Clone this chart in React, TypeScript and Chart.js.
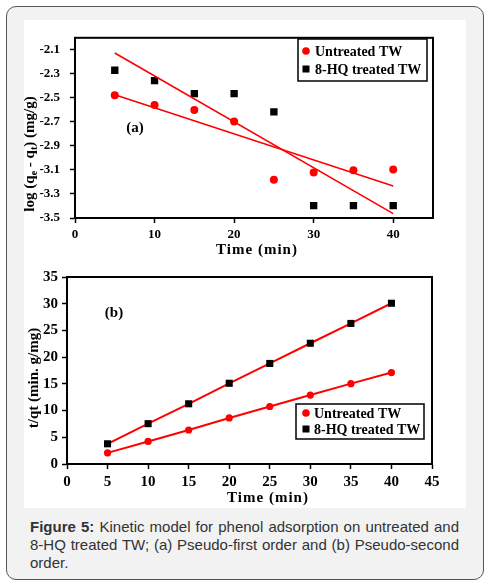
import React, { useEffect, useRef } from "react";
import { Chart, registerables } from "chart.js";

Chart.register(...registerables);

// ---------- data ----------
const seriesNames = ["Untreated TW", "8-HQ treated TW"];

// (a) Pseudo-first order
const timeA = [5, 10, 15, 20, 25, 30, 35, 40];
const untreatedA = [-2.478, -2.559, -2.6, -2.697, -3.181, -3.122, -3.103, -3.097];
const treatedA = [-2.27, -2.357, -2.465, -2.465, -2.616, -3.397, -3.397, -3.397];
const trendTimeA = [5, 40];
const untreatedTrendA = [-2.475, -3.234];
const treatedTrendA = [-2.127, -3.464];
const xTicksA = [0, 10, 20, 30, 40];
const yTicksA = [-3.5, -3.3, -3.1, -2.9, -2.7, -2.5, -2.3, -2.1];

// (b) Pseudo-second order
const timeB = [5, 10, 15, 20, 25, 30, 35, 40];
const untreatedB = [2.08, 4.22, 6.36, 8.62, 10.76, 12.9, 15.04, 17.12];
const treatedB = [3.78, 7.55, 11.27, 15.11, 18.82, 22.6, 26.31, 30.09];
const xTicksB = [0, 5, 10, 15, 20, 25, 30, 35, 40, 45];
const yTicksB = [0, 5, 10, 15, 20, 25, 30, 35];

const RED = "#ff0000";
const SERIF = '"Liberation Serif", "Times New Roman", serif';

type Seg = { t: string; sub?: boolean };

function makeDecor(cfg: any) {
  return {
    id: "decor" + cfg.panel,
    afterDraw(chart: any) {
      const { ctx, chartArea: a } = chart;
      ctx.save();
      // frame
      ctx.strokeStyle = "#000";
      ctx.lineWidth = 2;
      ctx.strokeRect(a.left, a.top, a.right - a.left, a.bottom - a.top);

      ctx.fillStyle = "#000";
      ctx.textBaseline = "middle";
      // panel label
      ctx.font = `bold 15px ${SERIF}`;
      ctx.textAlign = "center";
      ctx.fillText(cfg.panel, cfg.panelX, cfg.panelY);
      // x title
      ctx.font = `bold ${cfg.titleSize}px ${SERIF}`;
      try { (ctx as any).letterSpacing = "1px"; } catch (e) {}
      ctx.fillText("Time (min)", cfg.xTitleX, cfg.xTitleY);
      try { (ctx as any).letterSpacing = "0px"; } catch (e) {}

      // y title (rotated, with subscripts)
      const segs: Seg[] = cfg.yTitle;
      const mainFont = `bold ${cfg.titleSize}px ${SERIF}`;
      const subFont = `bold ${Math.round(cfg.titleSize * 0.65)}px ${SERIF}`;
      let total = 0;
      segs.forEach((s) => {
        ctx.font = s.sub ? subFont : mainFont;
        total += ctx.measureText(s.t).width;
      });
      ctx.save();
      ctx.translate(cfg.yTitleX, cfg.yTitleY);
      ctx.rotate(-Math.PI / 2);
      ctx.textAlign = "left";
      let px = -total / 2;
      segs.forEach((s) => {
        ctx.font = s.sub ? subFont : mainFont;
        ctx.fillText(s.t, px, s.sub ? 4 : 0);
        px += ctx.measureText(s.t).width;
      });
      ctx.restore();

      // legend
      const L = cfg.legend;
      ctx.strokeStyle = "#000";
      ctx.lineWidth = 1.5;
      ctx.strokeRect(L.x, L.y, L.w, L.h);
      ctx.font = `bold 14px ${SERIF}`;
      ctx.textAlign = "left";
      ctx.textBaseline = "middle";
      const dsets = chart.data.datasets.filter((d: any) => seriesNames.includes(d.label));
      dsets.forEach((d: any, i: number) => {
        const cy = L.rowY + i * L.rowGap;
        ctx.fillStyle = d.backgroundColor;
        if (d.pointStyle === "rect") {
          ctx.fillRect(L.markerX - 3.5, cy - 3.5, 7, 7);
        } else {
          ctx.beginPath();
          ctx.arc(L.markerX, cy, 3.8, 0, Math.PI * 2);
          ctx.fill();
        }
        ctx.fillStyle = "#000";
        ctx.fillText(d.label, L.textX, cy + 1);
      });
      ctx.restore();
    },
  };
}

function axis(ticksArr: number[], min: number, max: number, fit: (s: any) => void, font: number, pad: number, fmt: (v: number) => string) {
  return {
    type: "linear" as const,
    min,
    max,
    afterBuildTicks: (s: any) => {
      s.ticks = ticksArr.map((v) => ({ value: v }));
    },
    afterFit: fit,
    ticks: {
      autoSkip: false,
      maxRotation: 0,
      color: "#000",
      padding: pad,
      font: { family: SERIF, size: font, weight: "bold" as const },
      callback: (v: any) => fmt(Number(v)),
    },
    grid: { drawOnChartArea: false, drawTicks: true, tickLength: 5, tickColor: "#000", tickWidth: 1.5 },
    border: { display: true, color: "#000", width: 2 },
  };
}

function ChartCanvas({ config, width, height }: { config: any; width: number; height: number }) {
  const ref = useRef<HTMLCanvasElement | null>(null);
  useEffect(() => {
    if (!ref.current) return;
    const chart = new Chart(ref.current, config);
    return () => chart.destroy();
  }, [config]);
  return <canvas ref={ref} width={width} height={height} style={{ display: "block", width, height }} />;
}

const pts = (xs: number[], ys: number[]) => xs.map((x, i) => ({ x, y: ys[i] }));

const configA = {
  type: "scatter",
  data: {
    datasets: [
      { label: seriesNames[0], data: pts(timeA, untreatedA), pointStyle: "circle", pointRadius: 4, pointBorderWidth: 0, backgroundColor: RED, borderColor: RED, showLine: false, order: 1 },
      { label: seriesNames[1], data: pts(timeA, treatedA), pointStyle: "rect", pointRadius: 5.2, pointBorderWidth: 0, backgroundColor: "#000", borderColor: "#000", showLine: false, order: 2 },
      { label: "fit-untreated", data: pts(trendTimeA, untreatedTrendA), showLine: true, pointRadius: 0, borderColor: RED, borderWidth: 1.6, order: 0 },
      { label: "fit-treated", data: pts(trendTimeA, treatedTrendA), showLine: true, pointRadius: 0, borderColor: RED, borderWidth: 1.6, order: 0 },
    ],
  },
  options: {
    responsive: false,
    animation: false,
    layout: { padding: { top: 13, right: 33, left: 0, bottom: 0 } },
    plugins: { legend: { display: false }, tooltip: { enabled: false } },
    scales: {
      x: axis(xTicksA, 0, 45, (s: any) => { s.height = 44; }, 13, 4, (v) => String(v)),
      y: axis(yTicksA, -3.5, -2.0, (s: any) => { s.width = 51; }, 13, 10, (v) => v.toFixed(1)),
    },
  },
  plugins: [
    makeDecor({
      panel: "(a)", panelX: 111, panelY: 108,
      titleSize: 15,
      xTitleX: 233, xTitleY: 230,
      yTitleX: 6, yTitleY: 134,
      yTitle: [{ t: "log (q" }, { t: "e", sub: true }, { t: " - q" }, { t: "t", sub: true }, { t: ") (mg/g)" }],
      legend: { x: 274, y: 19, w: 129, h: 42, rowY: 31, rowGap: 18, markerX: 282, textX: 291 },
    }),
  ],
};

const configB = {
  type: "scatter",
  data: {
    datasets: [
      { label: seriesNames[0], data: pts(timeB, untreatedB), pointStyle: "circle", pointRadius: 3.6, pointBorderWidth: 0, backgroundColor: RED, borderColor: RED, showLine: true, borderWidth: 2, order: 1 },
      { label: seriesNames[1], data: pts(timeB, treatedB), pointStyle: "rect", pointRadius: 5, pointBorderWidth: 0, pointBackgroundColor: "#000", backgroundColor: "#000", borderColor: RED, showLine: true, borderWidth: 2, order: 0 },
    ],
  },
  options: {
    responsive: false,
    animation: false,
    layout: { padding: { top: 15, right: 34, left: 0, bottom: 0 } },
    plugins: { legend: { display: false }, tooltip: { enabled: false } },
    scales: {
      x: axis(xTicksB, 0, 45, (s: any) => { s.height = 44; }, 15, 4, (v) => String(v)),
      y: axis(yTicksB, 0, 35, (s: any) => { s.width = 43; }, 15, 4, (v) => String(v)),
    },
  },
  plugins: [
    makeDecor({
      panel: "(b)", panelX: 90, panelY: 51,
      titleSize: 15,
      xTitleX: 244, xTitleY: 236,
      yTitleX: 10, yTitleY: 116,
      yTitle: [{ t: "t/qt (min. g/mg)" }],
      legend: { x: 272, y: 142, w: 128, h: 35, rowY: 151, rowGap: 16, markerX: 282, textX: 290 },
    }),
  ],
};

const lineStyle: React.CSSProperties = {
  whiteSpace: "nowrap",
  textAlign: "justify",
  textAlignLast: "justify" as any,
  width: 429,
  height: 18,
};

export default function App() {
  return (
    <div style={{ position: "absolute", left: 0, top: 0, width: 491, height: 585, background: "#fff" }}>
      <div
        style={{
          position: "absolute",
          left: 6,
          top: 6,
          width: 476,
          height: 572,
          border: "1px solid #555",
          borderRadius: 10,
          background: "#f2f2f2",
        }}
      />
      <div style={{ position: "absolute", left: 24, top: 20, width: 442, height: 488, background: "#fff" }}>
        <ChartCanvas config={configA} width={442} height={242} />
        <ChartCanvas config={configB} width={442} height={246} />
      </div>
      <div
        style={{
          position: "absolute",
          left: 30,
          top: 518,
          fontFamily: '"Liberation Sans", Arial, sans-serif',
          fontSize: 15,
          lineHeight: "18px",
          color: "#333",
        }}
      >
        <div style={lineStyle}>
          <b>Figure 5:</b> Kinetic model for phenol adsorption on untreated and
        </div>
        <div style={lineStyle}>8-HQ treated TW; (a) Pseudo-first order and (b) Pseudo-second</div>
        <div style={{ height: 18 }}>order.</div>
      </div>
    </div>
  );
}
